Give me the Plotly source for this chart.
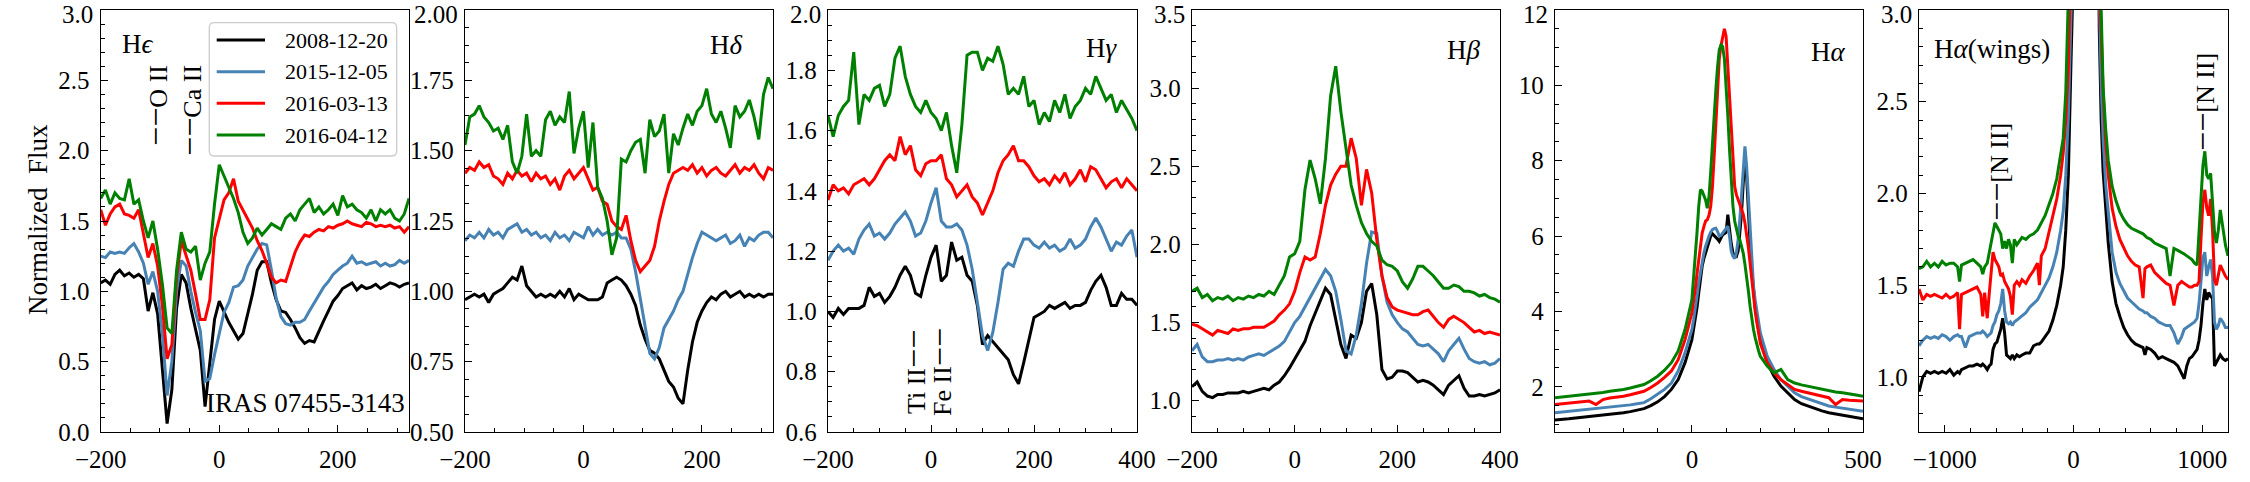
import plotly.graph_objects as go

W, H = 2250, 482
FONT = "Liberation Serif"

DATES = ["2008-12-20", "2015-12-05", "2016-03-13", "2016-04-12"]
COLORS = ["#000000", "#4682B4", "#FF0000", "#008000"]

# y tick values / labels of the six panels
YT_EPS = [0.0, 0.5, 1.0, 1.5, 2.0, 2.5, 3.0]
YL_EPS = ["0.0", "0.5", "1.0", "1.5", "2.0", "2.5", "3.0"]
YT_DEL = [0.5, 0.75, 1.0, 1.25, 1.5, 1.75, 2.0]
YL_DEL = ["0.50", "0.75", "1.00", "1.25", "1.50", "1.75", "2.00"]
YT_GAM = [0.6, 0.8, 1.0, 1.2, 1.4, 1.6, 1.8, 2.0]
YL_GAM = ["0.6", "0.8", "1.0", "1.2", "1.4", "1.6", "1.8", "2.0"]
YT_BET = [1.0, 1.5, 2.0, 2.5, 3.0, 3.5]
YL_BET = ["1.0", "1.5", "2.0", "2.5", "3.0", "3.5"]
YT_ALP = [2, 4, 6, 8, 10, 12]
YL_ALP = ["2", "4", "6", "8", "10", "12"]
YT_WNG = [1.0, 1.5, 2.0, 2.5, 3.0]
YL_WNG = ["1.0", "1.5", "2.0", "2.5", "3.0"]

# ---------------- H epsilon / H delta velocity grid (km/s) ----------------
V_EPS = [-200, -192, -184, -176, -168, -160, -152, -144, -136, -128,
         -120, -112, -104, -96, -88, -80, -72, -64, -56, -48,
         -40, -32, -24, -16, -8, 0, 8, 16, 24, 32,
         40, 48, 56, 64, 72, 80, 88, 96, 104, 112,
         120, 128, 136, 144, 152, 160, 168, 176, 184, 192,
         200, 208, 216, 224, 232, 240, 248, 256, 264, 272,
         280, 288, 296, 304, 312, 320]

HEPS_2008 = [1.06, 1.08, 1.05, 1.12, 1.15, 1.11, 1.13, 1.10, 1.12, 1.09,
             0.86, 0.99, 0.84, 0.45, 0.06, 0.30, 0.88, 1.12, 1.06, 0.88,
             0.72, 0.58, 0.18, 0.47, 0.80, 0.93, 0.85, 0.78, 0.72, 0.66,
             0.70, 0.83, 0.98, 1.15, 1.21, 1.21, 1.06, 0.94, 0.86, 0.85,
             0.80, 0.74, 0.67, 0.63, 0.65, 0.64, 0.72, 0.79, 0.86, 0.93,
             0.97, 1.02, 1.04, 1.06, 1.01, 1.04, 1.02, 1.03, 1.05, 1.02,
             1.04, 1.06, 1.05, 1.03, 1.05, 1.06]
HEPS_2015 = [1.25, 1.24, 1.28, 1.27, 1.28, 1.27, 1.31, 1.34, 1.28, 1.20,
             1.05, 1.14, 1.00, 0.70, 0.26, 0.50, 1.00, 1.22, 1.18, 1.00,
             0.85, 0.72, 0.36, 0.38, 0.55, 0.70, 0.85, 0.92, 1.03, 1.04,
             1.08, 1.18, 1.24, 1.30, 1.34, 1.33, 1.15, 0.95, 0.82, 0.77,
             0.76, 0.78, 0.78, 0.80, 0.86, 0.92, 0.98, 1.03, 1.07, 1.12,
             1.15, 1.18, 1.20, 1.25, 1.20, 1.21, 1.19, 1.20, 1.21, 1.18,
             1.20, 1.18, 1.19, 1.22, 1.20, 1.22]
HEPS_2016A = [1.58, 1.47, 1.55, 1.60, 1.62, 1.55, 1.54, 1.52, 1.58, 1.42,
              1.24, 1.34, 1.18, 0.90, 0.52, 0.62, 1.10, 1.36, 1.25, 1.15,
              0.98, 0.80, 0.80, 0.94, 1.38, 1.52, 1.65, 1.70, 1.80, 1.64,
              1.58, 1.52, 1.45, 1.36, 1.29, 1.20, 1.10, 1.06, 1.08, 1.07,
              1.18, 1.28, 1.35, 1.40, 1.39, 1.42, 1.44, 1.43, 1.46, 1.45,
              1.47, 1.48, 1.50, 1.48, 1.47, 1.46, 1.49, 1.48, 1.46, 1.47,
              1.46, 1.47, 1.45, 1.46, 1.42, 1.46]
HEPS_2016B = [1.66, 1.72, 1.62, 1.70, 1.66, 1.65, 1.80, 1.62, 1.65, 1.50,
              1.38, 1.50, 1.30, 1.05, 0.74, 0.70, 1.15, 1.42, 1.30, 1.28,
              1.32, 1.08, 1.20, 1.28, 1.62, 1.90, 1.82, 1.74, 1.66, 1.56,
              1.42, 1.34, 1.38, 1.45, 1.40, 1.44, 1.48, 1.46, 1.44, 1.52,
              1.55, 1.50, 1.58, 1.62, 1.66, 1.56, 1.60, 1.55, 1.58, 1.62,
              1.54, 1.68, 1.60, 1.62, 1.58, 1.56, 1.52, 1.58, 1.50, 1.58,
              1.55, 1.58, 1.52, 1.50, 1.55, 1.66]

HDEL_2008 = [0.97, 0.98, 0.99, 0.98, 0.99, 0.96, 0.99, 1.00, 1.01, 1.03,
             1.05, 1.04, 1.09, 1.02, 1.00, 0.98, 0.99, 0.98, 0.99, 0.98,
             1.00, 0.98, 1.01, 0.97, 0.99, 0.98, 0.97, 0.97, 0.97, 0.98,
             1.03, 1.04, 1.05, 1.04, 1.02, 0.99, 0.95, 0.88, 0.83, 0.79,
             0.78, 0.76, 0.72, 0.68, 0.66, 0.62, 0.60, 0.72, 0.82, 0.89,
             0.93, 0.96, 0.98, 0.97, 0.99, 1.00, 0.98, 0.99, 1.00, 0.98,
             0.99, 0.98, 0.99, 0.98, 0.99, 0.99]
HDEL_2015 = [1.18, 1.20, 1.19, 1.21, 1.19, 1.22, 1.20, 1.21, 1.19, 1.22,
             1.23, 1.24, 1.21, 1.22, 1.20, 1.21, 1.19, 1.20, 1.18, 1.21,
             1.19, 1.20, 1.18, 1.21, 1.20, 1.19, 1.23, 1.20, 1.22, 1.20,
             1.21, 1.20, 1.21, 1.19, 1.19, 1.15, 1.07, 0.97, 0.87, 0.78,
             0.76, 0.80, 0.87, 0.90, 0.93, 0.97, 1.00, 1.06, 1.12, 1.17,
             1.21, 1.20, 1.19, 1.18, 1.19, 1.20, 1.17, 1.18, 1.20, 1.16,
             1.19, 1.18, 1.20, 1.21, 1.21, 1.19]
HDEL_2016A = [1.42, 1.44, 1.43, 1.46, 1.44, 1.45, 1.41, 1.40, 1.38, 1.42,
              1.40, 1.43, 1.41, 1.42, 1.39, 1.42, 1.40, 1.41, 1.38, 1.40,
              1.36, 1.41, 1.43, 1.40, 1.42, 1.44, 1.40, 1.36, 1.37, 1.32,
              1.31, 1.25, 1.23, 1.22, 1.27, 1.18, 1.11, 1.07, 1.09, 1.11,
              1.16, 1.25, 1.32, 1.38, 1.42, 1.43, 1.44, 1.43, 1.45, 1.42,
              1.44, 1.41, 1.43, 1.44, 1.42, 1.41, 1.43, 1.45, 1.42, 1.44,
              1.43, 1.45, 1.42, 1.40, 1.44, 1.43]
HDEL_2016B = [1.52, 1.62, 1.63, 1.66, 1.62, 1.60, 1.57, 1.58, 1.54, 1.59,
              1.46, 1.42, 1.48, 1.63, 1.48, 1.50, 1.48, 1.61, 1.64, 1.59,
              1.62, 1.60, 1.71, 1.49, 1.58, 1.64, 1.44, 1.60, 1.37, 1.33,
              1.25, 1.13, 1.19, 1.47, 1.46, 1.50, 1.53, 1.54, 1.42, 1.61,
              1.55, 1.57, 1.63, 1.42, 1.56, 1.52, 1.58, 1.63, 1.59, 1.64,
              1.66, 1.72, 1.63, 1.60, 1.64, 1.58, 1.51, 1.66, 1.62, 1.64,
              1.68, 1.62, 1.54, 1.70, 1.76, 1.72]

# ---------------- H gamma / H beta velocity grid ----------------
V_GB = [-200, -190, -180, -170, -160, -150, -140, -130, -120, -110,
        -100, -90, -80, -70, -60, -50, -40, -30, -20, -10,
        0, 10, 20, 30, 40, 50, 60, 70, 80, 90,
        100, 110, 120, 130, 140, 150, 160, 170, 180, 190,
        200, 210, 220, 230, 240, 250, 260, 270, 280, 290,
        300, 310, 320, 330, 340, 350, 360, 370, 380, 390,
        400]

HGAM_2008 = [1.00, 0.98, 1.01, 0.99, 1.01, 1.01, 1.01, 1.02, 1.08, 1.05,
             1.06, 1.03, 1.05, 1.08, 1.12, 1.15, 1.12, 1.06, 1.05, 1.12,
             1.18, 1.22, 1.10, 1.12, 1.23, 1.17, 1.18, 1.12, 1.10, 1.02,
             0.89, 0.92, 0.90, 0.88, 0.86, 0.84, 0.79, 0.76, 0.83, 0.91,
             0.98, 0.99, 1.00, 1.02, 1.01, 1.02, 1.03, 1.01, 1.02, 1.02,
             1.03, 1.07, 1.10, 1.12, 1.08, 1.02, 1.02, 1.06, 1.04, 1.04,
             1.02]
HGAM_2015 = [1.17, 1.20, 1.22, 1.20, 1.21, 1.19, 1.24, 1.27, 1.29, 1.25,
             1.26, 1.24, 1.26, 1.29, 1.31, 1.33, 1.30, 1.25, 1.26, 1.30,
             1.36, 1.41, 1.30, 1.28, 1.28, 1.29, 1.27, 1.22, 1.14, 1.03,
             0.92, 0.87, 0.93, 1.03, 1.14, 1.16, 1.15, 1.20, 1.24, 1.24,
             1.22, 1.21, 1.23, 1.21, 1.22, 1.20, 1.21, 1.24, 1.21, 1.22,
             1.24, 1.28, 1.31, 1.28, 1.24, 1.20, 1.23, 1.22, 1.25, 1.27,
             1.18]
HGAM_2016A = [1.37, 1.42, 1.40, 1.41, 1.39, 1.42, 1.43, 1.44, 1.42, 1.44,
              1.47, 1.50, 1.52, 1.50, 1.58, 1.52, 1.55, 1.47, 1.45, 1.49,
              1.50, 1.50, 1.52, 1.44, 1.42, 1.38, 1.40, 1.42, 1.38, 1.36,
              1.32, 1.36, 1.40, 1.46, 1.50, 1.52, 1.55, 1.50, 1.50, 1.48,
              1.45, 1.43, 1.44, 1.42, 1.45, 1.43, 1.46, 1.42, 1.44, 1.47,
              1.43, 1.48, 1.47, 1.44, 1.41, 1.43, 1.44, 1.41, 1.44, 1.42,
              1.40]
HGAM_2016B = [1.65, 1.58, 1.65, 1.68, 1.70, 1.86, 1.62, 1.72, 1.70, 1.74,
              1.75, 1.68, 1.72, 1.84, 1.88, 1.78, 1.72, 1.68, 1.66, 1.70,
              1.66, 1.64, 1.60, 1.66, 1.55, 1.46, 1.62, 1.85, 1.86, 1.86,
              1.80, 1.84, 1.83, 1.88, 1.82, 1.72, 1.74, 1.72, 1.78, 1.68,
              1.70, 1.62, 1.66, 1.63, 1.70, 1.66, 1.72, 1.64, 1.68, 1.70,
              1.74, 1.72, 1.78, 1.74, 1.70, 1.72, 1.66, 1.70, 1.67, 1.64,
              1.60]

HBET_2008 = [1.09, 1.12, 1.06, 1.03, 1.02, 1.04, 1.04, 1.05, 1.05, 1.05,
             1.06, 1.05, 1.06, 1.07, 1.08, 1.07, 1.10, 1.12, 1.16, 1.21,
             1.27, 1.33, 1.38, 1.48, 1.56, 1.65, 1.72, 1.68, 1.52, 1.36,
             1.27, 1.42, 1.40, 1.50, 1.70, 1.75, 1.55, 1.20, 1.14, 1.15,
             1.19, 1.19, 1.18, 1.15, 1.12, 1.13, 1.12, 1.10, 1.07, 1.04,
             1.10, 1.13, 1.16, 1.08, 1.03, 1.03, 1.04, 1.03, 1.04, 1.05,
             1.07]
HBET_2015 = [1.32, 1.36, 1.28, 1.25, 1.25, 1.26, 1.26, 1.27, 1.26, 1.27,
             1.26, 1.28, 1.29, 1.30, 1.29, 1.31, 1.33, 1.35, 1.38, 1.44,
             1.50, 1.54, 1.60, 1.66, 1.72, 1.78, 1.84, 1.80, 1.70, 1.52,
             1.32, 1.30, 1.42, 1.62, 1.88, 2.08, 2.07, 1.80, 1.63, 1.55,
             1.50, 1.46, 1.44, 1.40, 1.36, 1.35, 1.36, 1.33, 1.30, 1.25,
             1.32, 1.36, 1.40, 1.33, 1.27, 1.25, 1.24, 1.25, 1.23, 1.24,
             1.27]
HBET_2016A = [1.49, 1.48, 1.46, 1.44, 1.42, 1.45, 1.44, 1.43, 1.46, 1.45,
              1.46, 1.46, 1.47, 1.47, 1.47, 1.49, 1.51, 1.55, 1.58, 1.62,
              1.70, 1.82, 1.92, 1.90, 1.92, 2.07, 2.25, 2.38, 2.45, 2.50,
              2.50, 2.68, 2.55, 2.25, 2.48, 2.33, 2.03, 1.80, 1.66, 1.60,
              1.58, 1.57, 1.56, 1.55, 1.55, 1.57, 1.58, 1.54, 1.50, 1.47,
              1.52, 1.54, 1.52, 1.50, 1.47, 1.44, 1.45, 1.43, 1.44, 1.43,
              1.42]
HBET_2016B = [1.70, 1.72, 1.66, 1.68, 1.64, 1.66, 1.65, 1.67, 1.64, 1.66,
              1.65, 1.67, 1.66, 1.68, 1.67, 1.70, 1.68, 1.74, 1.80, 1.92,
              1.94, 2.02, 2.35, 2.54, 2.42, 2.26, 2.55, 2.95, 3.14, 2.85,
              2.60, 2.38, 2.25, 2.14, 2.07, 2.02, 1.99, 1.90, 1.87, 1.86,
              1.83, 1.76, 1.72, 1.78, 1.86, 1.86, 1.83, 1.80, 1.76, 1.72,
              1.72, 1.74, 1.73, 1.70, 1.70, 1.69, 1.67, 1.68, 1.66, 1.65,
              1.63]

# ---------------- H alpha velocity grid ----------------
V_HA = [-400, -380, -360, -340, -320, -300, -280, -260, -240, -220,
        -200, -180, -160, -140, -120, -100, -80, -60, -40, -20,
        0, 5, 10, 15, 20, 25, 30, 35, 40, 45,
        50, 55, 60, 65, 70, 75, 80, 85, 90, 95,
        100, 105, 110, 115, 120, 125, 130, 135, 140, 145,
        150, 155, 160, 165, 170, 175, 180, 185, 190, 195,
        200, 220, 240, 260, 280, 300, 320, 340, 360, 380,
        400, 420, 440, 460, 480, 500]

HALP_2008 = [1.12, 1.13, 1.15, 1.17, 1.19, 1.21, 1.22, 1.24, 1.26, 1.28,
             1.31, 1.34, 1.38, 1.42, 1.50, 1.60, 1.74, 1.93, 2.19, 2.64,
             3.25, 3.50, 3.78, 4.10, 4.49, 4.85, 5.20, 5.40, 5.55, 5.72,
             5.90, 6.00, 6.06, 6.02, 5.98, 5.92, 5.86, 5.95, 6.04, 6.06,
             6.10, 6.57, 6.10, 5.80, 5.55, 5.48, 5.46, 5.60, 6.08, 6.60,
             7.40, 8.11, 7.58, 6.60, 5.82, 5.10, 4.49, 4.10, 3.78, 3.50,
             3.25, 2.64, 2.28, 2.02, 1.84, 1.66, 1.55, 1.48, 1.42, 1.36,
             1.31, 1.28, 1.25, 1.22, 1.18, 1.15]
HALP_2015 = [1.31, 1.33, 1.34, 1.36, 1.38, 1.40, 1.42, 1.44, 1.46, 1.47,
             1.49, 1.52, 1.55, 1.58, 1.68, 1.80, 1.93, 2.10, 2.42, 2.90,
             3.52, 3.78, 4.05, 4.40, 4.76, 5.05, 5.37, 5.55, 5.73, 5.88,
             6.00, 6.10, 6.17, 6.20, 6.21, 6.12, 6.00, 6.02, 6.08, 6.12,
             6.17, 6.26, 6.00, 5.60, 5.46, 5.40, 5.55, 5.90, 6.43, 7.10,
             7.85, 8.38, 7.85, 7.00, 6.08, 5.30, 4.67, 4.30, 3.96, 3.68,
             3.43, 2.81, 2.46, 2.19, 2.02, 1.84, 1.74, 1.68, 1.62, 1.55,
             1.49, 1.46, 1.43, 1.41, 1.38, 1.35]
HALP_2016A = [1.53, 1.55, 1.57, 1.59, 1.61, 1.62, 1.53, 1.66, 1.70, 1.72,
              1.75, 1.79, 1.84, 1.88, 1.98, 2.10, 2.25, 2.42, 2.72, 3.25,
              3.96, 4.25, 4.60, 5.00, 5.40, 5.80, 6.08, 6.25, 6.40, 6.43,
              6.55, 6.79, 7.30, 8.10, 9.10, 10.06, 10.70, 11.05, 11.30, 11.50,
              11.30, 10.50, 9.60, 8.73, 7.90, 7.32, 7.10, 6.96, 6.85, 6.70,
              6.58, 6.35, 6.08, 5.70, 5.29, 4.80, 4.31, 4.00, 3.70, 3.40,
              3.15, 2.64, 2.37, 2.19, 2.06, 1.93, 1.88, 1.84, 1.80, 1.76,
              1.71, 1.53, 1.66, 1.64, 1.63, 1.62]
HALP_2016B = [1.71, 1.73, 1.75, 1.77, 1.78, 1.80, 1.82, 1.85, 1.88, 1.90,
              1.93, 1.97, 2.01, 2.06, 2.16, 2.28, 2.44, 2.64, 2.95, 3.52,
              4.31, 4.85, 5.37, 6.10, 6.79, 7.23, 7.19, 7.05, 6.96, 6.74,
              7.05, 7.70, 8.55, 9.30, 9.88, 10.50, 10.94, 11.07, 11.03, 10.70,
              10.06, 9.20, 8.29, 7.50, 6.79, 6.40, 6.17, 6.00, 5.90, 5.70,
              5.55, 5.25, 4.93, 4.55, 4.14, 3.80, 3.52, 3.30, 3.08, 2.95,
              2.81, 2.55, 2.37, 2.46, 2.19, 2.10, 2.05, 2.01, 1.97, 1.93,
              1.88, 1.86, 1.84, 1.80, 1.78, 1.75]

# ---------------- H alpha wings velocity grid ----------------
V_WING = [-1200, -1170, -1140, -1110, -1080, -1050, -1020, -990, -960, -930,
          -900, -885, -870, -840, -810, -780, -750, -720, -705, -690,
          -670, -655, -640, -625, -610, -595, -580, -565, -550, -535,
          -520, -505, -490, -475, -460, -440, -420, -400, -370, -340,
          -310, -280, -265, -250, -220, -190, -160, -130, -100, -80,
          -60, -40, -20, 0, 50, 100, 150, 200, 215, 230,
          250, 270, 300, 330, 360, 390, 420, 450, 480, 510,
          540, 555, 570, 600, 630, 660, 690, 720, 750, 780,
          810, 840, 860, 880, 900, 920, 940, 960, 975, 990,
          1005, 1020, 1035, 1050, 1065, 1080, 1095, 1110, 1125, 1140,
          1160, 1180, 1200]

WING_2008 = [0.92, 1.00, 1.03, 1.02, 1.03, 1.02, 1.03, 1.02, 1.04, 1.01,
             1.03, 1.02, 1.04, 1.05, 1.06, 1.06, 1.07, 1.06, 1.07, 1.06,
             1.04, 1.06, 1.07, 1.15, 1.18, 1.19, 1.22, 1.26, 1.32, 1.24,
             1.12, 1.11, 1.10, 1.12, 1.10, 1.12, 1.11, 1.12, 1.13, 1.13,
             1.17, 1.18, 1.18, 1.19, 1.22, 1.25, 1.31, 1.39, 1.50, 1.60,
             1.80, 2.10, 2.70, 3.60, 5.90, 6.10, 7.40, 2.90, 2.40, 2.12,
             1.92, 1.73, 1.52, 1.40, 1.33, 1.27, 1.23, 1.20, 1.18, 1.17,
             1.16, 1.12, 1.16, 1.15, 1.13, 1.10, 1.11, 1.10, 1.09, 1.08,
             1.06, 1.02, 0.99, 1.06, 1.10, 1.11, 1.13, 1.15, 1.20, 1.28,
             1.40, 1.48, 1.42, 1.46, 1.44, 1.43, 1.06, 1.08, 1.10, 1.12,
             1.10, 1.09, 1.10]
WING_2015 = [1.17, 1.20, 1.22, 1.21, 1.22, 1.21, 1.23, 1.22, 1.20, 1.22,
             1.23, 1.22, 1.22, 1.16, 1.22, 1.23, 1.24, 1.24, 1.25, 1.24,
             1.22, 1.23, 1.24, 1.28, 1.30, 1.34, 1.36, 1.40, 1.48, 1.36,
             1.30, 1.29, 1.30, 1.28, 1.30, 1.31, 1.32, 1.33, 1.35, 1.38,
             1.40, 1.42, 1.44, 1.46, 1.50, 1.54, 1.60, 1.68, 1.80, 1.90,
             2.10, 2.42, 2.95, 3.60, 6.00, 6.17, 7.85, 3.10, 2.60, 2.30,
             2.05, 1.90, 1.68, 1.57, 1.51, 1.47, 1.43, 1.41, 1.39, 1.37,
             1.36, 1.35, 1.35, 1.33, 1.32, 1.30, 1.29, 1.28, 1.28, 1.24,
             1.18, 1.22, 1.26, 1.27, 1.28, 1.29, 1.30, 1.32, 1.40, 1.52,
             1.65, 1.68, 1.55, 1.60, 1.64, 1.55, 1.30, 1.26, 1.28, 1.32,
             1.30, 1.27, 1.27]
WING_2016A = [1.48, 1.42, 1.45, 1.44, 1.45, 1.44, 1.43, 1.45, 1.43, 1.44,
              1.46, 1.26, 1.45, 1.46, 1.47, 1.48, 1.49, 1.45, 1.33, 1.46,
              1.32, 1.45, 1.58, 1.68, 1.64, 1.62, 1.60, 1.55, 1.56, 1.52,
              1.50, 1.48, 1.44, 1.34, 1.50, 1.52, 1.50, 1.53, 1.51, 1.55,
              1.58, 1.62, 1.50, 1.66, 1.70, 1.79, 1.88, 1.97, 2.10, 2.22,
              2.40, 2.69, 3.30, 3.96, 6.43, 11.30, 6.58, 3.15, 2.88, 2.55,
              2.28, 2.10, 1.92, 1.82, 1.75, 1.70, 1.66, 1.63, 1.61, 1.60,
              1.43, 1.59, 1.60, 1.61, 1.57, 1.55, 1.53, 1.51, 1.50, 1.39,
              1.50, 1.52, 1.51, 1.50, 1.49, 1.49, 1.50, 1.50, 1.52, 1.75,
              1.95, 2.02, 1.92, 1.88, 1.97, 1.80, 1.53, 1.50, 1.56, 1.61,
              1.58, 1.55, 1.53]
WING_2016B = [1.59, 1.60, 1.63, 1.60, 1.62, 1.60, 1.63, 1.61, 1.62, 1.62,
              1.60, 1.52, 1.61, 1.62, 1.63, 1.64, 1.62, 1.60, 1.56, 1.60,
              1.62, 1.68, 1.72, 1.80, 1.84, 1.82, 1.80, 1.78, 1.70, 1.74,
              1.70, 1.75, 1.72, 1.62, 1.75, 1.72, 1.74, 1.76, 1.75, 1.77,
              1.78, 1.80, 1.82, 1.84, 1.88, 1.94, 2.00, 2.08, 2.20, 2.30,
              2.55, 2.90, 3.60, 4.31, 7.05, 10.06, 5.55, 3.30, 3.00, 2.58,
              2.35, 2.18, 2.04, 1.96, 1.90, 1.86, 1.83, 1.81, 1.80, 1.79,
              1.78, 1.77, 1.76, 1.75, 1.73, 1.72, 1.71, 1.70, 1.55, 1.70,
              1.69, 1.68, 1.67, 1.66, 1.65, 1.64, 1.62, 1.61, 1.79, 1.99,
              2.15, 2.23, 2.10, 2.08, 2.11, 1.95, 1.79, 1.73, 1.80, 1.91,
              1.80, 1.72, 1.66]


def fx(p):
    return p / W


def fy(p):
    return 1 - p / H


PANELS = [
    dict(x=V_EPS, ys=[HEPS_2008, HEPS_2015, HEPS_2016A, HEPS_2016B],
         dom=(100.7, 409.0), xr=[-200, 320], xd=200, xm=50,
         yr=[0.0, 3.0], yt=YT_EPS, yl=YL_EPS, ym=0.1),
    dict(x=V_EPS, ys=[HDEL_2008, HDEL_2015, HDEL_2016A, HDEL_2016B],
         dom=(465.0, 773.0), xr=[-200, 320], xd=200, xm=50,
         yr=[0.5, 2.0], yt=YT_DEL, yl=YL_DEL, ym=0.0625),
    dict(x=V_GB, ys=[HGAM_2008, HGAM_2015, HGAM_2016A, HGAM_2016B],
         dom=(828.0, 1137.0), xr=[-200, 400], xd=200, xm=50,
         yr=[0.6, 2.0], yt=YT_GAM, yl=YL_GAM, ym=0.05),
    dict(x=V_GB, ys=[HBET_2008, HBET_2015, HBET_2016A, HBET_2016B],
         dom=(1192.0, 1500.0), xr=[-200, 400], xd=200, xm=50,
         yr=[0.8, 3.5], yt=YT_BET, yl=YL_BET, ym=0.1),
    dict(x=V_HA, ys=[HALP_2008, HALP_2015, HALP_2016A, HALP_2016B],
         dom=(1555.0, 1863.0), xr=[-400, 500], xd=500, xm=100,
         yr=[0.8, 12.0], yt=YT_ALP, yl=YL_ALP, ym=0.5),
    dict(x=V_WING, ys=[WING_2008, WING_2015, WING_2016A, WING_2016B],
         dom=(1919.0, 2228.0), xr=[-1200, 1200], xd=1000, xm=200,
         yr=[0.7, 3.0], yt=YT_WNG, yl=YL_WNG, ym=0.1),
]

TOP, BOT = 10.0, 432.0

fig = go.Figure()
layout = dict(
    template="none",
    width=W, height=H, margin=dict(l=0, r=0, t=0, b=0, pad=0, autoexpand=False),
    paper_bgcolor="white", plot_bgcolor="white", showlegend=False,
    font=dict(family=FONT, color="black"),
)

annotations = []


def text(t, x, y, size, xa="center", ya="middle", angle=0):
    annotations.append(dict(
        text=t, x=fx(x), y=fy(y), xref="paper", yref="paper",
        xanchor=xa, yanchor=ya, textangle=angle, showarrow=False,
        font=dict(family=FONT, size=size, color="black"),
    ))


def axis_common():
    return dict(
        showline=True, linecolor="black", linewidth=1.3, mirror=True,
        ticks="inside", ticklen=7, tickwidth=1.2, tickcolor="black",
        showgrid=False, zeroline=False, ticklabeloverflow="allow",
        automargin=False,
        tickfont=dict(family=FONT, size=25, color="black"),
    )


for i, p in enumerate(PANELS, start=1):
    xname = "x" if i == 1 else f"x{i}"
    yname = "y" if i == 1 else f"y{i}"
    for ys, col, name in zip(p["ys"], COLORS, DATES):
        fig.add_trace(go.Scatter(
            x=p["x"], y=ys, mode="lines", name=name,
            line=dict(color=col, width=3),
            xaxis=xname, yaxis=yname, showlegend=False,
        ))
    xa = axis_common()
    xa.update(domain=[fx(p["dom"][0]), fx(p["dom"][1])], range=p["xr"],
              anchor=yname, tick0=0, dtick=p["xd"], ticklabelstandoff=5,
              minor=dict(ticks="inside", ticklen=4, tickwidth=1.0,
                         tickcolor="black", tick0=0, dtick=p["xm"],
                         showgrid=False))
    ya = axis_common()
    # the top-most label sits at the very edge of the page; it is written
    # as an annotation so that it stays fully inside the picture
    ya.update(domain=[fy(BOT), fy(TOP)], range=p["yr"], anchor=xname,
              tickmode="array", tickvals=p["yt"][:-1], ticktext=p["yl"][:-1],
              ticklabelstandoff=5,
              minor=dict(ticks="inside", ticklen=4, tickwidth=1.0,
                         tickcolor="black", tick0=0, dtick=p["ym"],
                         showgrid=False))
    layout["xaxis" if i == 1 else f"xaxis{i}"] = xa
    layout["yaxis" if i == 1 else f"yaxis{i}"] = ya
    annotations.append(dict(
        text=p["yl"][-1], x=fx(p["dom"][0] - 6.5), y=1.0,
        xref="paper", yref="paper", xanchor="right", yanchor="top",
        showarrow=False, borderpad=0,
        font=dict(family=FONT, size=25, color="black"),
    ))


DASH = '<span style="font-size:34px">\u2212\u2212</span>'

# y label
text("Normalized\u00a0 Flux", 38, 220, 27, angle=-90)

# panel titles
text("H<i>ϵ</i>", 120, 44, 27, xa="left")
text("H<i>δ</i>", 745, 45, 27, xa="right")
text("H<i>γ</i>", 1120, 48, 27, xa="right")
text("H<i>β</i>", 1483, 50, 27, xa="right")
text("H<i>α</i>", 1848, 52, 27, xa="right")
text("H<i>α</i>(wings)", 1932, 49, 27, xa="left")

text("IRAS 07455-3143", 407, 403, 27, xa="right")

# line identifications (vertical)
text(DASH + "O II", 155, 106, 26, angle=-90)
text(DASH + "Ca II", 190, 111, 26, angle=-90)
text("Ti II" + DASH, 913, 372, 26, angle=-90)
text("Fe II" + DASH, 939, 372, 26, angle=-90)
text(DASH + "[N II]", 1996, 172, 26, angle=-90)
text(DASH + "[N II]", 2202, 102, 26, angle=-90)

# legend (drawn inside first panel)
shapes = []
lx0, lx1, ly0, ly1, r = 209.3, 396.7, 22.7, 156.0, 5.0
path = (
    f"M {fx(lx0 + r)},{fy(ly0)} L {fx(lx1 - r)},{fy(ly0)} "
    f"Q {fx(lx1)},{fy(ly0)} {fx(lx1)},{fy(ly0 + r)} "
    f"L {fx(lx1)},{fy(ly1 - r)} Q {fx(lx1)},{fy(ly1)} {fx(lx1 - r)},{fy(ly1)} "
    f"L {fx(lx0 + r)},{fy(ly1)} Q {fx(lx0)},{fy(ly1)} {fx(lx0)},{fy(ly1 - r)} "
    f"L {fx(lx0)},{fy(ly0 + r)} Q {fx(lx0)},{fy(ly0)} {fx(lx0 + r)},{fy(ly0)} Z"
)
shapes.append(dict(type="path", path=path, xref="paper", yref="paper",
                   line=dict(color="#cccccc", width=1.3),
                   fillcolor="rgba(255,255,255,0.85)", layer="above"))
rows = [40.0, 71.7, 103.3, 135.0]
for name, col, ry in zip(DATES, COLORS, rows):
    shapes.append(dict(type="line", xref="paper", yref="paper",
                       x0=fx(216.7), x1=fx(265.0), y0=fy(ry), y1=fy(ry),
                       line=dict(color=col, width=3), layer="above"))
    text(name, 283, ry, 22, xa="left")

layout["annotations"] = annotations
layout["shapes"] = shapes
fig.update_layout(**layout)

fig.write_html("out.html")
